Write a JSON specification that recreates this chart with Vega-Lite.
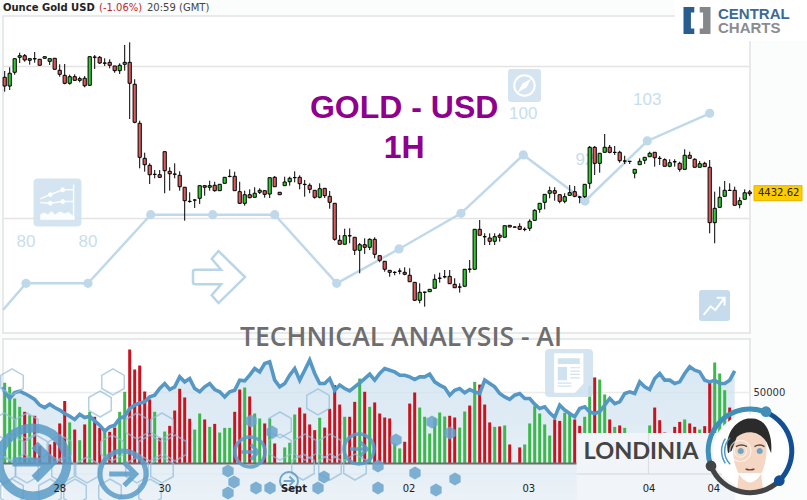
{
  "$schema": "https://vega.github.io/schema/vega-lite/v6.json",
  "description": "Gold / USD hourly candles with volume panel and AI score watermark",
  "width": 807,
  "height": 500,
  "padding": 0,
  "autosize": {"type": "none"},
  "background": "#fbfcfc",
  "config": {"view": {"stroke": null}, "font": "DejaVu Sans"},
  "datasets": {
    "candles": [
      {"i":0,"o":4585.8,"h":4594.1,"l":4566.8,"c":4574.3},{"i":1,"o":4574.3,"h":4598.9,"l":4569.1,"c":4591.1},{"i":2,"o":4592.4,"h":4610.3,"l":4589.2,"c":4610.3},{"i":3,"o":4612.1,"h":4618.2,"l":4604.6,"c":4614.2},{"i":4,"o":4614.2,"h":4616.4,"l":4606.3,"c":4608.6},{"i":5,"o":4608.2,"h":4610.3,"l":4602.4,"c":4610.3},{"i":6,"o":4610.3,"h":4619.1,"l":4605,"c":4610},{"i":7,"o":4609.5,"h":4609.5,"l":4601.6,"c":4601.6},{"i":8,"o":4610.8,"h":4612.9,"l":4610.8,"c":4612.9},{"i":9,"o":4606.8,"h":4610.3,"l":4602,"c":4610.3},
      {"i":10,"o":4610.8,"h":4611.2,"l":4596.3,"c":4596.3},{"i":11,"o":4595,"h":4602.9,"l":4586.6,"c":4589.7},{"i":12,"o":4588.4,"h":4603.3,"l":4576.6,"c":4577.9},{"i":13,"o":4577.9,"h":4589.2,"l":4576.1,"c":4586.6},{"i":14,"o":4586.6,"h":4589.7,"l":4580.9,"c":4581.8},{"i":15,"o":4581.8,"h":4586.6,"l":4579.2,"c":4584},{"i":16,"o":4584.5,"h":4587.5,"l":4572.6,"c":4574.7},{"i":17,"o":4575.3,"h":4612.9,"l":4574.3,"c":4612.9},{"i":18,"o":4612.1,"h":4615.1,"l":4596.7,"c":4612.4},{"i":19,"o":4612.1,"h":4613.8,"l":4603.3,"c":4604.6},
      {"i":20,"o":4604.6,"h":4610.8,"l":4600.7,"c":4604.3},{"i":21,"o":4605.5,"h":4609.5,"l":4597.6,"c":4601.6},{"i":22,"o":4600.7,"h":4600.7,"l":4591.8,"c":4594.5},{"i":23,"o":4594.5,"h":4604.2,"l":4590.1,"c":4601.6},{"i":24,"o":4602.9,"h":4628.3,"l":4594.5,"c":4605.5},{"i":25,"o":4605.5,"h":4631.8,"l":4530.9,"c":4577.9},{"i":26,"o":4576.6,"h":4583.2,"l":4525.3,"c":4526.6},{"i":27,"o":4525.3,"h":4528.7,"l":4466,"c":4480.5},{"i":28,"o":4479.2,"h":4486.6,"l":4461.6,"c":4470.8},{"i":29,"o":4470,"h":4472.6,"l":4445.4,"c":4457.6},
      {"i":30,"o":4458.2,"h":4463.8,"l":4452.9,"c":4457.9},{"i":31,"o":4457.6,"h":4463.8,"l":4453.3,"c":4454.2},{"i":32,"o":4487.9,"h":4487.9,"l":4433.2,"c":4462.9},{"i":33,"o":4462.1,"h":4467.4,"l":4436.6,"c":4458.9},{"i":34,"o":4458.5,"h":4472.6,"l":4452.9,"c":4458.2},{"i":35,"o":4456.8,"h":4462.1,"l":4436.6,"c":4441.8},{"i":36,"o":4441.1,"h":4441.5,"l":4397.1,"c":4423.4},{"i":37,"o":4422.6,"h":4434.5,"l":4420.8,"c":4422.4},{"i":38,"o":4424.4,"h":4425.3,"l":4413.8,"c":4424.2},{"i":39,"o":4426.6,"h":4443.2,"l":4419.1,"c":4443.2},
      {"i":40,"o":4443.2,"h":4443.2,"l":4430,"c":4441.1},{"i":41,"o":4441.1,"h":4449.7,"l":4436.6,"c":4443.2},{"i":42,"o":4443.7,"h":4448.4,"l":4435.3,"c":4436.6},{"i":43,"o":4436.6,"h":4445,"l":4436.6,"c":4445},{"i":44,"o":4446.3,"h":4454.2,"l":4446.3,"c":4454.2},{"i":45,"o":4455.5,"h":4464.7,"l":4454.2,"c":4455.2},{"i":46,"o":4455.5,"h":4461.6,"l":4436.6,"c":4436.6},{"i":47,"o":4435.3,"h":4448.4,"l":4419.1,"c":4420},{"i":48,"o":4420,"h":4436.6,"l":4416.8,"c":4431.3},{"i":49,"o":4431.3,"h":4438.4,"l":4426.6,"c":4427.4},
      {"i":50,"o":4427.9,"h":4441.1,"l":4427.4,"c":4433.2},{"i":51,"o":4434.5,"h":4439.7,"l":4432.2,"c":4437.1},{"i":52,"o":4436.6,"h":4436.6,"l":4427.4,"c":4431.8},{"i":53,"o":4432.2,"h":4453.7,"l":4427,"c":4453.7},{"i":54,"o":4454.2,"h":4455.9,"l":4441.8,"c":4441.8},{"i":55,"o":4434.5,"h":4434.5,"l":4431.3,"c":4431.3},{"i":56,"o":4443.2,"h":4455,"l":4443.2,"c":4448},{"i":57,"o":4448.4,"h":4455,"l":4443.2,"c":4452.9},{"i":58,"o":4453.7,"h":4462.1,"l":4447.6,"c":4453.9},{"i":59,"o":4454.2,"h":4456.8,"l":4438.4,"c":4445.8},
      {"i":60,"o":4445,"h":4450.7,"l":4428.7,"c":4444.7},{"i":61,"o":4443.7,"h":4446.3,"l":4433.2,"c":4438.4},{"i":62,"o":4437.1,"h":4437.1,"l":4426.1,"c":4427.9},{"i":63,"o":4427.9,"h":4446.3,"l":4426.6,"c":4439.2},{"i":64,"o":4439.7,"h":4439.7,"l":4427,"c":4430},{"i":65,"o":4429.2,"h":4436.2,"l":4412.9,"c":4421.3},{"i":66,"o":4420,"h":4420,"l":4370.8,"c":4372.6},{"i":67,"o":4371.3,"h":4378.3,"l":4366.1,"c":4366.1},{"i":68,"o":4366.1,"h":4386.6,"l":4366.1,"c":4377.4},{"i":69,"o":4377.4,"h":4387.1,"l":4367.4,"c":4377.1},
      {"i":70,"o":4375.3,"h":4375.3,"l":4352,"c":4358.2},{"i":71,"o":4358.2,"h":4367.8,"l":4327.9,"c":4365.5},{"i":72,"o":4365.5,"h":4373.9,"l":4353.3,"c":4362.1},{"i":73,"o":4362.1,"h":4373.9,"l":4358.5,"c":4372.6},{"i":74,"o":4372.6,"h":4375.3,"l":4347.6,"c":4352.9},{"i":75,"o":4351.1,"h":4351.1,"l":4342.4,"c":4345},{"i":76,"o":4343.7,"h":4343.7,"l":4330,"c":4333.2},{"i":77,"o":4331.8,"h":4331.8,"l":4323.4,"c":4329.2},{"i":78,"o":4329.2,"h":4330.5,"l":4325.3,"c":4329},{"i":79,"o":4330.9,"h":4334.5,"l":4326.6,"c":4330.7},
      {"i":80,"o":4329.2,"h":4335.8,"l":4325.3,"c":4326.6},{"i":81,"o":4325.3,"h":4334.5,"l":4316.8,"c":4316.8},{"i":82,"o":4316,"h":4316,"l":4291.5,"c":4292.4},{"i":83,"o":4292.4,"h":4314.7,"l":4288.4,"c":4302.9},{"i":84,"o":4302.9,"h":4303.7,"l":4284,"c":4303.1},{"i":85,"o":4303.7,"h":4306.8,"l":4303.7,"c":4306.8},{"i":86,"o":4308.2,"h":4326.6,"l":4308.2,"c":4320},{"i":87,"o":4321.3,"h":4328.7,"l":4315.5,"c":4321.5},{"i":88,"o":4323.4,"h":4332.2,"l":4321.3,"c":4323.2},{"i":89,"o":4323.9,"h":4332.2,"l":4314.2,"c":4314.2},
      {"i":90,"o":4313.4,"h":4321.3,"l":4308.9,"c":4308.9},{"i":91,"o":4309.9,"h":4314.7,"l":4302.4,"c":4309.7},{"i":92,"o":4310.8,"h":4333.2,"l":4310.8,"c":4333.2},{"i":93,"o":4333.2,"h":4345.4,"l":4328.7,"c":4333.4},{"i":94,"o":4333.2,"h":4385.8,"l":4333.2,"c":4385.8},{"i":95,"o":4385.8,"h":4398,"l":4377.9,"c":4377.9},{"i":96,"o":4376.1,"h":4380.5,"l":4365.1,"c":4375.9},{"i":97,"o":4374.3,"h":4380.5,"l":4365.1,"c":4370},{"i":98,"o":4370,"h":4380.5,"l":4365.1,"c":4376.1},{"i":99,"o":4377.9,"h":4380.5,"l":4369.5,"c":4375.3},
      {"i":100,"o":4375.3,"h":4390.5,"l":4375.3,"c":4390.5},{"i":101,"o":4391,"h":4391,"l":4388.8,"c":4388.8},{"i":102,"o":4388.8,"h":4389.5,"l":4388,"c":4388.6},{"i":103,"o":4389.7,"h":4393.7,"l":4384.9,"c":4385.8},{"i":104,"o":4385.8,"h":4388.4,"l":4383.2,"c":4385.6},{"i":105,"o":4387.1,"h":4398.9,"l":4383.5,"c":4396.3},{"i":106,"o":4397.6,"h":4412.1,"l":4397.6,"c":4410.8},{"i":107,"o":4412.1,"h":4420,"l":4407.6,"c":4420},{"i":108,"o":4421.3,"h":4431.8,"l":4412.1,"c":4431.8},{"i":109,"o":4433.2,"h":4441.9,"l":4426.6,"c":4436.6},
      {"i":110,"o":4436.6,"h":4441.1,"l":4423.4,"c":4433.2},{"i":111,"o":4431.3,"h":4431.3,"l":4420,"c":4422.6},{"i":112,"o":4422.6,"h":4433.2,"l":4420,"c":4428.7},{"i":113,"o":4430.5,"h":4444.1,"l":4430.5,"c":4434},{"i":114,"o":4435.3,"h":4442.8,"l":4427.9,"c":4429.2},{"i":115,"o":4428.3,"h":4429.6,"l":4420,"c":4428.1},{"i":116,"o":4428.7,"h":4445,"l":4427,"c":4445},{"i":117,"o":4446.3,"h":4495.4,"l":4439.2,"c":4493.7},{"i":118,"o":4493.7,"h":4495.4,"l":4457.2,"c":4472.6},{"i":119,"o":4472.6,"h":4485.8,"l":4460.3,"c":4485.8},
      {"i":120,"o":4487.1,"h":4511.2,"l":4487.1,"c":4493.7},{"i":121,"o":4493.7,"h":4496.7,"l":4485.8,"c":4487.1},{"i":122,"o":4487.1,"h":4495.4,"l":4483.6,"c":4486.9},{"i":123,"o":4487.1,"h":4489.2,"l":4473.4,"c":4476.1},{"i":124,"o":4475.7,"h":4482.6,"l":4471.7,"c":4475.5},{"i":125,"o":4475.3,"h":4475.5,"l":4471.7,"c":4475.1},{"i":126,"o":4459.5,"h":4464.7,"l":4452.9,"c":4464.7},{"i":127,"o":4470.8,"h":4479.2,"l":4470.8,"c":4475.3},{"i":128,"o":4476.6,"h":4480.5,"l":4471.7,"c":4480.5},{"i":129,"o":4481.3,"h":4487.9,"l":4481.3,"c":4485.8},
      {"i":130,"o":4487.1,"h":4487.1,"l":4468.2,"c":4480},{"i":131,"o":4479.2,"h":4482.2,"l":4470.4,"c":4479},{"i":132,"o":4477.4,"h":4479.2,"l":4468.7,"c":4468.7},{"i":133,"o":4468.7,"h":4477.9,"l":4467.4,"c":4473.4},{"i":134,"o":4474.7,"h":4477.9,"l":4468.2,"c":4474.5},{"i":135,"o":4472.6,"h":4474.7,"l":4461.6,"c":4464.7},{"i":136,"o":4464.7,"h":4491.1,"l":4464.7,"c":4483.2},{"i":137,"o":4483.2,"h":4487.9,"l":4479.2,"c":4479.2},{"i":138,"o":4477.9,"h":4479.2,"l":4467.4,"c":4467.4},{"i":139,"o":4467.4,"h":4475.7,"l":4467.4,"c":4472.1},
      {"i":140,"o":4472.6,"h":4474.7,"l":4468.2,"c":4468.2},{"i":141,"o":4467.4,"h":4477,"l":4380.5,"c":4394.5},{"i":142,"o":4394.5,"h":4435.3,"l":4367.4,"c":4413.4},{"i":143,"o":4414.7,"h":4441.9,"l":4414.7,"c":4427.9},{"i":144,"o":4429.2,"h":4449.3,"l":4429.2,"c":4437.1},{"i":145,"o":4437.1,"h":4446.3,"l":4436.9,"c":4436.9},{"i":146,"o":4437.1,"h":4441.9,"l":4417.4,"c":4417.4},{"i":147,"o":4418.2,"h":4427.9,"l":4413.4,"c":4423.4},{"i":148,"o":4425.3,"h":4438.4,"l":4425.3,"c":4433.9},{"i":149,"o":4434.9,"h":4437.5,"l":4429.6,"c":4432.6}
    ],
    "volume": [
      {"i":0,"v":56800,"side":"buy"},{"i":1,"v":54000,"side":"buy"},{"i":2,"v":45800,"side":"buy"},{"i":3,"v":39900,"side":"buy"},{"i":4,"v":36400,"side":"sell"},{"i":5,"v":34000,"side":"buy"},{"i":6,"v":33600,"side":"sell"},{"i":7,"v":12400,"side":"sell"},{"i":9,"v":13400,"side":"sell"},
      {"i":10,"v":15300,"side":"sell"},{"i":11,"v":28200,"side":"sell"},{"i":12,"v":44100,"side":"sell"},{"i":13,"v":28900,"side":"buy"},{"i":14,"v":23900,"side":"sell"},{"i":15,"v":16400,"side":"buy"},{"i":16,"v":27500,"side":"sell"},{"i":17,"v":36400,"side":"buy"},{"i":18,"v":32900,"side":"sell"},{"i":19,"v":25100,"side":"sell"},
      {"i":20,"v":22300,"side":"buy"},{"i":21,"v":22300,"side":"sell"},{"i":22,"v":25300,"side":"sell"},{"i":23,"v":36400,"side":"buy"},{"i":24,"v":50500,"side":"buy"},{"i":25,"v":80300,"side":"sell"},{"i":26,"v":66200,"side":"sell"},{"i":27,"v":69000,"side":"sell"},{"i":28,"v":50700,"side":"sell"},{"i":29,"v":45100,"side":"sell"},
      {"i":30,"v":36400,"side":"buy"},{"i":31,"v":18100,"side":"sell"},{"i":32,"v":22500,"side":"buy"},{"i":33,"v":26500,"side":"sell"},{"i":34,"v":37300,"side":"sell"},{"i":35,"v":52600,"side":"sell"},{"i":36,"v":46500,"side":"sell"},{"i":37,"v":31500,"side":"sell"},{"i":38,"v":23900,"side":"buy"},{"i":39,"v":35200,"side":"buy"},
      {"i":40,"v":31000,"side":"sell"},{"i":41,"v":25800,"side":"buy"},{"i":42,"v":27900,"side":"sell"},{"i":43,"v":21800,"side":"buy"},{"i":44,"v":25100,"side":"buy"},{"i":45,"v":25100,"side":"buy"},{"i":46,"v":36400,"side":"sell"},{"i":47,"v":52100,"side":"sell"},{"i":48,"v":53500,"side":"buy"},{"i":49,"v":47200,"side":"sell"},
      {"i":50,"v":35200,"side":"buy"},{"i":51,"v":31700,"side":"buy"},{"i":52,"v":28200,"side":"sell"},{"i":53,"v":31700,"side":"buy"},{"i":54,"v":14100,"side":"sell"},{"i":56,"v":11300,"side":"buy"},{"i":57,"v":14600,"side":"buy"},{"i":58,"v":34500,"side":"buy"},{"i":59,"v":39400,"side":"sell"},
      {"i":60,"v":35200,"side":"sell"},{"i":61,"v":27500,"side":"sell"},{"i":62,"v":23500,"side":"sell"},{"i":63,"v":32200,"side":"buy"},{"i":64,"v":25300,"side":"sell"},{"i":65,"v":38500,"side":"sell"},{"i":66,"v":55200,"side":"sell"},{"i":67,"v":41500,"side":"sell"},{"i":68,"v":32900,"side":"buy"},{"i":69,"v":32900,"side":"sell"},
      {"i":70,"v":43400,"side":"sell"},{"i":71,"v":59800,"side":"buy"},{"i":72,"v":50500,"side":"sell"},{"i":73,"v":39900,"side":"buy"},{"i":74,"v":43000,"side":"sell"},{"i":75,"v":35200,"side":"sell"},{"i":76,"v":32400,"side":"sell"},{"i":77,"v":31700,"side":"sell"},{"i":78,"v":14100,"side":"buy"},{"i":79,"v":10600,"side":"buy"},
      {"i":80,"v":15300,"side":"sell"},{"i":81,"v":42200,"side":"sell"},{"i":82,"v":50000,"side":"sell"},{"i":83,"v":39400,"side":"buy"},{"i":84,"v":32900,"side":"buy"},{"i":85,"v":21100,"side":"buy"},{"i":86,"v":31700,"side":"buy"},{"i":87,"v":35900,"side":"buy"},{"i":88,"v":33100,"side":"buy"},{"i":89,"v":33600,"side":"sell"},
      {"i":90,"v":32400,"side":"sell"},{"i":91,"v":25300,"side":"buy"},{"i":92,"v":36600,"side":"buy"},{"i":93,"v":40800,"side":"sell"},{"i":94,"v":57500,"side":"buy"},{"i":95,"v":55600,"side":"sell"},{"i":96,"v":41500,"side":"sell"},{"i":97,"v":28900,"side":"sell"},{"i":98,"v":25800,"side":"buy"},{"i":99,"v":26100,"side":"sell"},
      {"i":100,"v":26800,"side":"buy"},{"i":101,"v":13400,"side":"sell"},{"i":103,"v":11300,"side":"sell"},{"i":104,"v":13400,"side":"buy"},{"i":105,"v":28200,"side":"buy"},{"i":106,"v":40400,"side":"buy"},{"i":107,"v":35200,"side":"buy"},{"i":108,"v":27500,"side":"buy"},{"i":109,"v":19700,"side":"buy"},
      {"i":110,"v":31000,"side":"sell"},{"i":111,"v":30000,"side":"sell"},{"i":112,"v":35700,"side":"buy"},{"i":113,"v":34700,"side":"buy"},{"i":114,"v":31000,"side":"sell"},{"i":115,"v":26500,"side":"sell"},{"i":116,"v":32900,"side":"buy"},{"i":117,"v":54700,"side":"buy"},{"i":118,"v":60600,"side":"sell"},{"i":119,"v":59100,"side":"buy"},
      {"i":120,"v":48600,"side":"buy"},{"i":121,"v":31000,"side":"sell"},{"i":122,"v":25800,"side":"buy"},{"i":123,"v":26800,"side":"sell"},{"i":124,"v":25100,"side":"buy"},{"i":129,"v":26800,"side":"buy"},
      {"i":130,"v":39400,"side":"sell"},{"i":131,"v":30500,"side":"sell"},{"i":132,"v":21800,"side":"sell"},{"i":134,"v":25800,"side":"sell"},{"i":135,"v":29300,"side":"sell"},{"i":136,"v":31000,"side":"buy"},{"i":137,"v":28200,"side":"sell"},{"i":138,"v":25800,"side":"sell"},{"i":139,"v":23900,"side":"buy"},
      {"i":140,"v":26300,"side":"sell"},{"i":141,"v":58700,"side":"sell"},{"i":142,"v":71100,"side":"buy"},{"i":143,"v":63400,"side":"buy"},{"i":144,"v":51600,"side":"buy"},{"i":145,"v":39400,"side":"sell"}
    ],
    "flow": [
      {"i":-0.34,"v":54000},{"i":0,"v":50500},{"i":1,"v":45800},{"i":2,"v":50000},{"i":3,"v":50900},{"i":4,"v":49300},{"i":5,"v":47400},{"i":6,"v":45100},{"i":7,"v":41100},{"i":8,"v":39400},{"i":9,"v":41800},
      {"i":10,"v":39400},{"i":11,"v":37600},{"i":12,"v":35200},{"i":13,"v":33300},{"i":14,"v":31000},{"i":15,"v":34700},{"i":16,"v":32400},{"i":17,"v":33300},{"i":18,"v":30000},{"i":19,"v":27000},
      {"i":20,"v":22800},{"i":21,"v":25800},{"i":22,"v":27000},{"i":23,"v":31700},{"i":24,"v":33300},{"i":25,"v":38700},{"i":26,"v":41100},{"i":27,"v":42700},{"i":28,"v":43400},{"i":29,"v":46900},
      {"i":30,"v":48100},{"i":31,"v":52800},{"i":32,"v":56300},{"i":33,"v":52100},{"i":34,"v":54000},{"i":35,"v":61000},{"i":36,"v":57500},{"i":37,"v":59800},{"i":38,"v":52800},{"i":39,"v":50500},
      {"i":40,"v":54000},{"i":41,"v":56300},{"i":42,"v":52100},{"i":43,"v":50500},{"i":44,"v":46900},{"i":45,"v":50500},{"i":46,"v":51600},{"i":47,"v":58700},{"i":48,"v":58200},{"i":49,"v":62200},
      {"i":50,"v":66900},{"i":51,"v":64500},{"i":52,"v":70400},{"i":53,"v":71600},{"i":54,"v":58700},{"i":55,"v":54000},{"i":56,"v":56300},{"i":57,"v":62200},{"i":58,"v":66900},{"i":59,"v":58700},
      {"i":60,"v":65700},{"i":61,"v":72800},{"i":62,"v":63400},{"i":63,"v":56300},{"i":64,"v":56300},{"i":65,"v":59800},{"i":66,"v":51600},{"i":67,"v":55200},{"i":68,"v":52800},{"i":69,"v":51200},
      {"i":70,"v":54000},{"i":71,"v":56800},{"i":72,"v":59800},{"i":73,"v":62900},{"i":74,"v":58700},{"i":75,"v":63400},{"i":76,"v":66900},{"i":77,"v":65700},{"i":78,"v":64500},{"i":79,"v":62200},
      {"i":80,"v":62200},{"i":81,"v":61000},{"i":82,"v":59100},{"i":83,"v":61000},{"i":84,"v":61000},{"i":85,"v":62900},{"i":86,"v":57500},{"i":87,"v":55200},{"i":88,"v":53500},{"i":89,"v":48100},
      {"i":90,"v":51600},{"i":91,"v":52800},{"i":92,"v":49800},{"i":93,"v":52100},{"i":94,"v":50500},{"i":95,"v":49300},{"i":96,"v":58700},{"i":97,"v":56300},{"i":98,"v":54000},{"i":99,"v":49300},
      {"i":100,"v":46900},{"i":101,"v":45100},{"i":102,"v":48100},{"i":103,"v":49300},{"i":104,"v":45800},{"i":105,"v":45800},{"i":106,"v":41800},{"i":107,"v":38700},{"i":108,"v":39900},{"i":109,"v":35700},
      {"i":110,"v":32400},{"i":111,"v":41100},{"i":112,"v":37600},{"i":113,"v":35200},{"i":114,"v":32900},{"i":115,"v":38700},{"i":116,"v":39900},{"i":117,"v":36400},{"i":118,"v":35200},{"i":119,"v":36400},
      {"i":120,"v":41100},{"i":121,"v":45800},{"i":122,"v":42200},{"i":123,"v":43400},{"i":124,"v":49300},{"i":125,"v":50500},{"i":126,"v":49300},{"i":127,"v":57500},{"i":128,"v":54000},{"i":129,"v":52100},
      {"i":130,"v":59800},{"i":131,"v":63400},{"i":132,"v":58700},{"i":133,"v":58700},{"i":134,"v":56300},{"i":135,"v":57500},{"i":136,"v":63400},{"i":137,"v":68100},{"i":138,"v":65700},{"i":139,"v":64500},
      {"i":140,"v":58700},{"i":141,"v":57500},{"i":142,"v":58700},{"i":143,"v":56300},{"i":144,"v":56300},{"i":145,"v":58700},{"i":146,"v":65200}
    ],
    "scores": [
      {"i":-0.34,"p":4279.6},{"i":4.26,"p":4314.7,"score":"80"},{"i":16.66,"p":4314.7,"score":"80"},{"i":29.2,"p":4405},{"i":41.6,"p":4405},{"i":54,"p":4405},{"i":66.4,"p":4314.7},{"i":78.86,"p":4359.9},{"i":91.26,"p":4406.8},{"i":103.72,"p":4483.6,"score":"100"},{"i":116.06,"p":4423,"score":"92"},{"i":128.52,"p":4502,"score":"103"},{"i":141,"p":4538.4}
    ],
    "dates": [{"i":10.92},{"i":31.92},{"i":57.76},{"i":80.78},{"i":104.72},{"i":128.76},{"i":141.72}]
  },
  "encoding": {
    "x": {
      "field": "i",
      "type": "quantitative",
      "scale": {"domain": [-0.94, 160.46], "nice": false, "zero": false, "padding": 0},
      "axis": {
        "title": null, "grid": false, "domain": false, "ticks": false, "zindex": 1,
        "orient": "bottom",
        "values": [10.92, 31.92, 57.76, 80.78, 104.72, 128.76, 141.72],
        "labelExpr": "{'10.92':'28','31.92':'30','57.76':'Sept','80.78':'02','104.72':'03','128.76':'04','141.72':'04'}[datum.value]",
        "labelFontWeight": {"condition": {"test": "datum.value == 57.76", "value": "bold"}, "value": "normal"},
        "labelBaseline": "middle", "labelPadding": -12, "labelFontSize": 10, "labelColor": "#222",
        "labelFont": "DejaVu Sans", "labelOverlap": false, "labelFlush": false, "labelBound": false
      }
    }
  },
  "layer": [
    {
      "encoding": {
        "y": {
          "field": "p",
          "type": "quantitative",
          "scale": {"domain": [4029.6, 4687.5], "nice": false, "zero": false},
          "axis": {
            "orient": "right", "title": null, "grid": false, "domain": false, "ticks": false, "zindex": 1,
            "values": [4400, 4600], "format": "d", "labelAlign": "left", "labelPadding": -54, "labelBaseline": "middle",
            "labelFontSize": 10, "labelColor": "#333", "labelFont": "DejaVu Sans", "labelOverlap": false, "labelFlush": false, "labelBound": false
          }
        }
      },
      "layer": [
        {
          "data": {"values": [{"i": -0.34, "i2": 149.06, "p": 4666.4, "p2": 4249.3}, {"i": -0.34, "i2": 149.06, "p": 4241.4, "p2": 4063.8}]},
          "mark": {"type": "rect", "fill": "#ffffff", "stroke": "#e2e2e2", "strokeWidth": 1.5},
          "encoding": {"x2": {"field": "i2"}, "y2": {"field": "p2"}}
        },
        {
          "data": {"values": [{"i": 134, "i2": 160.46, "p": 4687.5, "p2": 4633.5}]},
          "mark": {"type": "rect", "fill": "#ffffff"},
          "encoding": {"x2": {"field": "i2"}, "y2": {"field": "p2"}}
        },
        {
          "data": {"values": [{"i": -0.34, "i2": 149.06, "p": 4400}, {"i": -0.34, "i2": 149.06, "p": 4600}]},
          "mark": {"type": "rule", "stroke": "#e4e4e4", "strokeWidth": 1.3},
          "encoding": {"x2": {"field": "i2"}}
        },
        {
          "data": {"name": "dates"},
          "mark": {"type": "rule", "stroke": "#e2e2e2", "strokeWidth": 1.3},
          "encoding": {"y": {"datum": 4649.6}, "y2": {"datum": 4249.3}}
        },
        {
          "data": {"name": "dates"},
          "mark": {"type": "rule", "stroke": "#e2e2e2", "strokeWidth": 1.3},
          "encoding": {"y": {"datum": 4241.4}, "y2": {"datum": 4063.8}}
        },
        {
          "data": {"name": "scores"},
          "mark": {"type": "line", "stroke": "#c0d9ea", "strokeWidth": 2.5}
        },
        {
          "data": {"name": "scores"},
          "transform": [{"filter": "datum.i > 0"}],
          "mark": {"type": "point", "shape": "circle", "filled": true, "fill": "#c0d9ea", "size": 85, "opacity": 1}
        },
        {
          "data": {"name": "scores"},
          "transform": [{"filter": "datum.score"}],
          "mark": {"type": "text", "font": "Liberation Sans", "fontSize": 17, "fill": "#c8deed", "dy": -41},
          "encoding": {"text": {"field": "score"}}
        },
        {
          "data": {"values": [{"i": 10.56, "p": 4421.1}]},
          "mark": {"type": "point", "filled": true, "fill": "#cfe2ef", "opacity": 0.9, "size": 2304, "shape": "M-0.82,-1H0.82Q1,-1 1,-0.82V0.82Q1,1 0.82,1H-0.82Q-1,1 -1,0.82V-0.82Q-1,-1 -0.82,-1Z"}
        },
        {
          "data": {"values": [{"i": 10.56, "p": 4421.1}]},
          "mark": {"type": "point", "filled": false, "stroke": "#ffffff", "strokeWidth": 1.5, "opacity": 0.9, "size": 2304, "shape": "M-0.72,-0.15L-0.3,-0.33L0.22,-0.53L0.65,-0.53M-0.72,0L-0.3,0.03L0.22,-0.04L0.65,-0.04M0.67,-0.75V0.7"}
        },
        {
          "data": {"values": [{"i": 10.56, "p": 4421.1}]},
          "mark": {"type": "point", "filled": true, "fill": "#ffffff", "opacity": 0.9, "size": 2304, "shape": "M-0.72,0.72V0.5L-0.55,0.42L-0.4,0.5L-0.25,0.36L-0.1,0.5L0.1,0.38L0.3,0.46L0.45,0.4L0.72,0.6V0.72ZM-0.4,-0.33A0.1,0.1 0 1 1 -0.2,-0.33A0.1,0.1 0 1 1 -0.4,-0.33ZM-0.4,0.03A0.1,0.1 0 1 1 -0.2,0.03A0.1,0.1 0 1 1 -0.4,0.03ZM0.12,-0.53A0.1,0.1 0 1 1 0.32,-0.53A0.1,0.1 0 1 1 0.12,-0.53ZM0.12,-0.04A0.1,0.1 0 1 1 0.32,-0.04A0.1,0.1 0 1 1 0.12,-0.04Z"}
        },
        {
          "data": {"values": [{"i": 42.86, "p": 4323}]},
          "mark": {"type": "point", "filled": false, "stroke": "#b9d5e8", "strokeWidth": 2.5, "opacity": 1, "size": 2704, "shape": "M-1,-0.2Q-1,-0.28 -0.9,-0.28H0.08L-0.28,-0.7L-0.02,-1L1,0L-0.02,1L-0.28,0.7L0.08,0.28H-0.9Q-1,0.28 -1,0.2Z"}
        },
        {
          "data": {"values": [{"i": 103.96, "p": 4575}]},
          "mark": {"type": "point", "filled": true, "fill": "#cfe2ef", "opacity": 0.9, "size": 1089, "shape": "M-0.82,-1H0.82Q1,-1 1,-0.82V0.82Q1,1 0.82,1H-0.82Q-1,1 -1,0.82V-0.82Q-1,-1 -0.82,-1Z"}
        },
        {
          "data": {"values": [{"i": 103.96, "p": 4575}]},
          "mark": {"type": "point", "filled": false, "stroke": "#ffffff", "strokeWidth": 2, "opacity": 1, "size": 1089, "shape": "M-0.62,0A0.62,0.62 0 1 1 0.62,0A0.62,0.62 0 1 1 -0.62,0Z"}
        },
        {
          "data": {"values": [{"i": 103.96, "p": 4575}]},
          "mark": {"type": "point", "filled": true, "fill": "#ffffff", "opacity": 1, "size": 1089, "shape": "M0.42,-0.42L0.12,0.12L-0.42,0.42L-0.12,-0.12Z"}
        },
        {
          "data": {"values": [{"i": 141.96, "p": 4285.5}]},
          "mark": {"type": "point", "filled": true, "fill": "#c6dced", "opacity": 1, "size": 961, "shape": "M-0.82,-1H0.82Q1,-1 1,-0.82V0.82Q1,1 0.82,1H-0.82Q-1,1 -1,0.82V-0.82Q-1,-1 -0.82,-1Z"}
        },
        {
          "data": {"values": [{"i": 141.96, "p": 4285.5}]},
          "mark": {"type": "point", "filled": false, "stroke": "#ffffff", "strokeWidth": 2, "opacity": 1, "size": 961, "shape": "M-0.7,0.6L-0.25,0.05L0.05,0.3L0.65,-0.5M0.15,-0.5H0.65V0"}
        },
        {
          "data": {"name": "candles"},
          "mark": {"type": "rule", "stroke": "#000000", "strokeWidth": 1},
          "encoding": {"y": {"field": "h", "type": "quantitative", "axis": null}, "y2": {"field": "l"}}
        },
        {
          "data": {"name": "candles"},
          "mark": {"type": "bar", "size": 3.2, "stroke": "#000000", "strokeWidth": 1},
          "encoding": {
            "y": {"field": "o", "type": "quantitative", "axis": null},
            "y2": {"field": "c"},
            "fill": {"condition": {"test": "datum.c >= datum.o", "value": "#33cc33"}, "value": "#e05c5c"}
          }
        },
        {
          "data": {"values": [{"i": -0.34, "p": 4677, "t": "Ounce Gold USD"}]},
          "mark": {"type": "text", "align": "left", "baseline": "middle", "font": "DejaVu Sans", "fontSize": 10, "fontWeight": "bold", "fill": "#222222"},
          "encoding": {"text": {"field": "t"}}
        },
        {
          "data": {"values": [{"i": 18.86, "p": 4677, "t": "(-1.06%)"}]},
          "mark": {"type": "text", "align": "left", "baseline": "middle", "font": "DejaVu Sans", "fontSize": 10, "fill": "#c0272d"},
          "encoding": {"text": {"field": "t"}}
        },
        {
          "data": {"values": [{"i": 28.46, "p": 4677, "t": "20:59 (GMT)"}]},
          "mark": {"type": "text", "align": "left", "baseline": "middle", "font": "DejaVu Sans", "fontSize": 10, "fill": "#444444"},
          "encoding": {"text": {"field": "t"}}
        },
        {
          "data": {"values": [{"i": 79.9, "p": 4545.4, "t": "GOLD - USD"}, {"i": 79.9, "p": 4492.8, "t": "1H"}]},
          "mark": {"type": "text", "baseline": "middle", "font": "Liberation Sans", "fontSize": 32, "fontWeight": "bold", "fill": "#8f008f"},
          "encoding": {"text": {"field": "t"}}
        },
        {
          "data": {"values": [{"i": 149.86, "i2": 159.46, "p": 4443.2, "p2": 4423.4}]},
          "mark": {"type": "rect", "fill": "#ffcc00", "stroke": "#e3b400", "strokeWidth": 1},
          "encoding": {"x2": {"field": "i2"}, "y2": {"field": "p2"}}
        },
        {
          "data": {"values": [{"i": 150.66, "p": 4433.5, "t": "4432.62"}]},
          "mark": {"type": "text", "align": "left", "baseline": "middle", "font": "DejaVu Sans", "fontSize": 10, "fill": "#222222"},
          "encoding": {"text": {"field": "t"}}
        },
        {
          "data": {"values": [{"i": 138.46, "p": 4660.5}]},
          "mark": {"type": "point", "filled": true, "fill": "#2a5d8f", "opacity": 1, "size": 729, "shape": "M-1,-1H-0.2V-0.6H-0.45V0.6H-0.2V1H-1Z"}
        },
        {
          "data": {"values": [{"i": 138.46, "p": 4660.5}]},
          "mark": {"type": "point", "filled": true, "fill": "#85888b", "opacity": 1, "size": 729, "shape": "M1,-1H0.2V-0.6H0.45V0.6H0.2V1H1Z"}
        },
        {
          "data": {"values": [{"i": 142.66, "p": 4669.1, "t": "CENTRAL"}]},
          "mark": {"type": "text", "align": "left", "baseline": "middle", "font": "Liberation Sans", "fontWeight": "bold", "fontSize": 15, "fill": "#3b6a96"},
          "encoding": {"text": {"field": "t"}}
        },
        {
          "data": {"values": [{"i": 142.66, "p": 4651.3, "t": "CHARTS"}]},
          "mark": {"type": "text", "align": "left", "baseline": "middle", "font": "Liberation Sans", "fontWeight": "bold", "fontSize": 15, "fill": "#8a8c8f"},
          "encoding": {"text": {"field": "t"}}
        }
      ]
    },
    {
      "encoding": {
        "y": {
          "field": "v",
          "type": "quantitative",
          "scale": {"domain": [-25704, 326408], "nice": false, "zero": false},
          "axis": {
            "orient": "right", "title": null, "grid": false, "domain": false, "ticks": false, "zindex": 1,
            "values": [50000], "format": "d", "labelAlign": "left", "labelPadding": -54, "labelBaseline": "middle",
            "labelFontSize": 10, "labelColor": "#333", "labelFont": "DejaVu Sans", "labelOverlap": false, "labelFlush": false, "labelBound": false
          }
        }
      },
      "layer": [
        {
          "data": {"values": [{"i": -0.34, "i2": 149.06, "v": 50000}]},
          "mark": {"type": "rule", "stroke": "#ececec", "strokeWidth": 1.3},
          "encoding": {"x2": {"field": "i2"}}
        },
        {
          "data": {"name": "flow"},
          "mark": {
            "type": "area",
            "color": {
              "gradient": "linear", "x1": 0, "y1": 0, "x2": 0, "y2": 1,
              "stops": [{"offset": 0, "color": "rgba(200,222,238,0.7)"}, {"offset": 1, "color": "rgba(232,240,246,0.85)"}]
            }
          },
          "encoding": {"y2": {"datum": -25704}}
        },
        {
          "data": {"name": "volume"},
          "mark": {"type": "bar", "size": 3},
          "encoding": {
            "y2": {"datum": 0},
            "color": {"field": "side", "type": "nominal", "scale": {"domain": ["buy", "sell"], "range": ["#3db84a", "#c8141e"]}, "legend": null}
          }
        },
        {
          "data": {"values": [{"i": -0.34, "i2": 114.4, "v": 0}]},
          "mark": {"type": "rule", "stroke": "#6e6e6e", "strokeWidth": 2},
          "encoding": {"x2": {"field": "i2"}}
        },
        {
          "data": {"name": "flow"},
          "mark": {"type": "line", "stroke": "#5598c6", "strokeWidth": 3.6}
        }
      ]
    },
    {
      "encoding": {
        "y": {
          "field": "p",
          "type": "quantitative",
          "scale": {"domain": [4029.6, 4687.5], "nice": false, "zero": false},
          "axis": null
        }
      },
      "layer": [
        {
          "data": {"values": [{"i": 1.46, "p": 4184.9}, {"i": 21.66, "p": 4184.9}, {"i": 19.06, "p": 4155.9}, {"i": -0.14, "p": 4127}, {"i": 4.46, "p": 4127}, {"i": 26.46, "p": 4127}, {"i": 31.46, "p": 4127}, {"i": 1.46, "p": 4098}, {"i": 6.26, "p": 4098}, {"i": 11.06, "p": 4098}, {"i": 21.46, "p": 4098}, {"i": 29.06, "p": 4098}, {"i": 34.06, "p": 4098}, {"i": -0.14, "p": 4069.1}, {"i": 4.46, "p": 4069.1}, {"i": 11.66, "p": 4069.1}, {"i": 16.46, "p": 4069.1}, {"i": 26.46, "p": 4069.1}, {"i": 31.46, "p": 4069.1}, {"i": 1.46, "p": 4040.1}, {"i": 9.06, "p": 4040.1}, {"i": 14.06, "p": 4040.1}, {"i": 21.06, "p": 4040.1}, {"i": 29.06, "p": 4040.1}, {"i": 62.66, "p": 4158.6}, {"i": 55.06, "p": 4128.3}, {"i": 60.06, "p": 4099.3}, {"i": 65.06, "p": 4099.3}, {"i": 55.06, "p": 4099.3}, {"i": 59.66, "p": 4073}, {"i": 65.06, "p": 4073}, {"i": 70.06, "p": 4073}]},
          "mark": {"type": "point", "filled": false, "stroke": "#93bddb", "strokeWidth": 1.5, "opacity": 0.7, "size": 676, "shape": "M0,-1L0.866,-0.5V0.5L0,1L-0.866,0.5V-0.5Z"}
        },
        {
          "data": {"values": [{"i": 44.66, "p": 4067.8}, {"i": 45.86, "p": 4053.3}, {"i": 44.66, "p": 4038.8}, {"i": 50.26, "p": 4045.4}, {"i": 53.06, "p": 4045.4}, {"i": 49.26, "p": 4133.6}, {"i": 53.46, "p": 4119.1}, {"i": 74.66, "p": 4074.3}, {"i": 82.06, "p": 4065.1}, {"i": 78.26, "p": 4108.6}, {"i": 85.46, "p": 4132.2}, {"i": 89.06, "p": 4117.8}, {"i": 90.06, "p": 4057.2}, {"i": 86.26, "p": 4042.8}, {"i": 74.66, "p": 4045.4}, {"i": 62.66, "p": 4045.4}, {"i": 63.86, "p": 4059.9}]},
          "mark": {"type": "point", "filled": true, "fill": "#6aa3cc", "opacity": 0.85, "size": 169, "shape": "M0,-1L0.866,-0.5V0.5L0,1L-0.866,0.5V-0.5Z"}
        },
        {
          "data": {"values": [{"i": 5.66, "p": 4079.6}]},
          "mark": {"type": "point", "filled": false, "stroke": "#5b9cc8", "strokeWidth": 9, "opacity": 0.85, "size": 4624, "shape": "M-1,0A1,1 0 1 1 1,0A1,1 0 1 1 -1,0ZM-0.6,0H0.45M0.05,-0.5L0.55,0L0.05,0.5"}
        },
        {
          "data": {"values": [{"i": 23.66, "p": 4063.8}]},
          "mark": {"type": "point", "filled": false, "stroke": "#5b9cc8", "strokeWidth": 5, "opacity": 0.85, "size": 2116, "shape": "M-1,0A1,1 0 1 1 1,0A1,1 0 1 1 -1,0ZM-0.6,0H0.45M0.05,-0.5L0.55,0L0.05,0.5"}
        },
        {
          "data": {"values": [{"i": 49.06, "p": 4092.8}, {"i": 70.86, "p": 4096.7}]},
          "mark": {"type": "point", "filled": false, "stroke": "#5b9cc8", "strokeWidth": 3.5, "opacity": 0.85, "size": 900, "shape": "M-1,0A1,1 0 1 1 1,0A1,1 0 1 1 -1,0ZM-0.6,0H0.45M0.05,-0.5L0.55,0L0.05,0.5"}
        },
        {
          "data": {"values": [{"i": 56.86, "p": 4054.6}]},
          "mark": {"type": "point", "filled": false, "stroke": "#5b9cc8", "strokeWidth": 2, "opacity": 0.85, "size": 324, "shape": "M-1,0A1,1 0 1 1 1,0A1,1 0 1 1 -1,0ZM-0.6,0H0.45M0.05,-0.5L0.55,0L0.05,0.5"}
        },
        {
          "data": {"values": [{"i": 79.26, "p": 4242.8, "t": "TECHNICAL  ANALYSIS - AI"}]},
          "mark": {"type": "text", "baseline": "middle", "font": "Open Sans", "fontSize": 26.5, "fontWeight": 600, "fill": "#6e6e6e"},
          "encoding": {"text": {"field": "t"}}
        },
        {
          "data": {"values": [{"i": 112.86, "p": 4196.7}]},
          "mark": {"type": "point", "filled": true, "fill": "#cfe2ef", "opacity": 0.9, "size": 2304, "shape": "M-0.82,-1H0.82Q1,-1 1,-0.82V0.82Q1,1 0.82,1H-0.82Q-1,1 -1,0.82V-0.82Q-1,-1 -0.82,-1Z"}
        },
        {
          "data": {"values": [{"i": 112.86, "p": 4196.7}]},
          "mark": {"type": "point", "filled": true, "fill": "#ffffff", "opacity": 1, "size": 2304, "shape": "M-0.62,-0.82H0.6V0.45L0.25,0.82H-0.62Z"}
        },
        {
          "data": {"values": [{"i": 112.86, "p": 4196.7}]},
          "mark": {"type": "point", "filled": true, "fill": "#cfe2ef", "opacity": 1, "size": 2304, "shape": "M-0.47,-0.62H0.45V-0.38H-0.47ZM-0.47,-0.25H-0.08V0.3H-0.47Z"}
        },
        {
          "data": {"values": [{"i": 112.86, "p": 4196.7}]},
          "mark": {"type": "point", "filled": false, "stroke": "#cfe2ef", "strokeWidth": 1.2, "opacity": 1, "size": 2304, "shape": "M0.05,-0.22H0.45M0.05,-0.08H0.45M0.05,0.06H0.45M0.05,0.2H0.45M-0.47,0.42H0.1M-0.47,0.55H0.1"}
        },
        {
          "data": {"values": [{"i": 114.4, "i2": 146.1, "p": 4117.8, "p2": 4029.6}]},
          "mark": {"type": "rect", "fill": "#f1f5f9"},
          "encoding": {"x2": {"field": "i2"}, "y2": {"field": "p2"}}
        },
        {
          "data": {"values": [{"i": 114.4, "i2": 149.06, "p": 4063.8}]},
          "mark": {"type": "rule", "stroke": "#dcdfe2", "strokeWidth": 1.3},
          "encoding": {"x2": {"field": "i2"}}
        },
        {
          "data": {"values": [{"i": 128.76, "p": 4117.8, "p2": 4063.8}]},
          "mark": {"type": "rule", "stroke": "#dcdfe2", "strokeWidth": 1.3},
          "encoding": {"y2": {"field": "p2"}}
        },
        {
          "data": {"values": [{"i": 127.26, "p": 4092.8, "t": "LONDINIA"}]},
          "mark": {"type": "text", "baseline": "middle", "font": "Lato", "fontSize": 23.5, "fontWeight": "bold", "fill": "#444444"},
          "encoding": {"text": {"field": "t"}}
        },
        {
          "data": {"values": [{"i": 149.06, "p": 4094.1}]},
          "mark": {"type": "point", "shape": "circle", "filled": true, "fill": "#ffffff", "opacity": 1, "size": 5400}
        },
        {
          "data": {"values": [{"i": 149.06, "p": 4094.1}]},
          "mark": {"type": "point", "filled": true, "fill": "#f4d6c2", "opacity": 1, "size": 7744, "shape": "M-0.25,0.5L-0.3,0.92Q0,1 0.3,0.92L0.25,0.5ZM-0.36,-0.25C-0.2,-0.5 0.25,-0.5 0.36,-0.25C0.42,0.1 0.32,0.5 0.15,0.65Q0,0.78 -0.15,0.65C-0.32,0.5 -0.44,0.1 -0.36,-0.25Z"}
        },
        {
          "data": {"values": [{"i": 149.06, "p": 4094.1}]},
          "mark": {"type": "point", "filled": true, "fill": "#2b2b2b", "opacity": 1, "size": 7744, "shape": "M-0.5,0.05C-0.6,-0.45 -0.25,-0.76 0.02,-0.74C0.35,-0.76 0.52,-0.4 0.48,0.05L0.38,-0.2C0.2,-0.48 -0.1,-0.48 -0.3,-0.32L-0.42,0Z"}
        },
        {
          "data": {"values": [{"i": 149.06, "p": 4094.1}]},
          "mark": {"type": "point", "filled": false, "stroke": "#ffffff", "strokeWidth": 1.2, "opacity": 0.6, "size": 7744, "shape": "M-0.46,0A0.24,0.24 0 1 1 0.02,0A0.24,0.24 0 1 1 -0.46,0ZM-0.36,0A0.14,0.14 0 1 1 -0.08,0A0.14,0.14 0 1 1 -0.36,0Z"}
        },
        {
          "data": {"values": [{"i": 149.06, "p": 4094.1}]},
          "mark": {"type": "point", "filled": false, "stroke": "#3b8ec4", "strokeWidth": 1.5, "opacity": 0.9, "size": 7744, "shape": "M-0.45,-0.3A0.42,0.42 0 0 0 -0.45,0.3M-0.56,-0.28A0.5,0.5 0 0 0 -0.56,0.28"}
        },
        {
          "data": {"values": [{"i": 149.06, "p": 4094.1}]},
          "mark": {"type": "point", "filled": false, "stroke": "#5c4a42", "strokeWidth": 1.4, "opacity": 1, "size": 7744, "shape": "M-0.32,-0.1Q-0.2,-0.17 -0.07,-0.1M0.1,-0.1Q0.22,-0.17 0.33,-0.1M-0.1,0.41Q0,0.45 0.1,0.41"}
        },
        {
          "data": {"values": [{"i": 149.06, "p": 4094.1}]},
          "mark": {"type": "point", "filled": true, "fill": "#6fa5c4", "opacity": 1, "size": 7744, "shape": "M-0.28,0A0.07,0.07 0 1 1 -0.14,0A0.07,0.07 0 1 1 -0.28,0ZM0.15,0A0.07,0.07 0 1 1 0.29,0A0.07,0.07 0 1 1 0.15,0Z"}
        },
        {
          "data": {"values": [{"i": 149.06, "p": 4094.1}]},
          "mark": {"type": "point", "filled": false, "stroke": "#3f8fb8", "strokeWidth": 5, "opacity": 1, "size": 7744, "shape": "M-0.886,0.341A0.95,0.95 0 0 1 0.364,-0.88"}
        },
        {
          "data": {"values": [{"i": 149.06, "p": 4094.1}]},
          "mark": {"type": "point", "filled": false, "stroke": "#134f94", "strokeWidth": 5, "opacity": 1, "size": 7744, "shape": "M0.364,-0.88A0.95,0.95 0 0 1 0.667,0.674"}
        },
        {
          "data": {"values": [{"i": 149.06, "p": 4094.1}]},
          "mark": {"type": "point", "filled": false, "stroke": "#444444", "strokeWidth": 5, "opacity": 1, "size": 7744, "shape": "M0.667,0.674A0.95,0.95 0 0 1 -0.886,0.341"}
        },
        {
          "data": {"values": [{"i": 152.26, "p": 4145.8}]},
          "mark": {"type": "point", "shape": "circle", "filled": true, "fill": "#3f8fb8", "opacity": 1, "size": 115}
        },
        {
          "data": {"values": [{"i": 154.92, "p": 4055}]},
          "mark": {"type": "point", "shape": "circle", "filled": true, "fill": "#134f94", "opacity": 1, "size": 115}
        },
        {
          "data": {"values": [{"i": 141.26, "p": 4074.4}]},
          "mark": {"type": "point", "shape": "circle", "filled": true, "fill": "#444444", "opacity": 1, "size": 115}
        }
      ]
    }
  ],
  "resolve": {"scale": {"y": "independent"}}
}
